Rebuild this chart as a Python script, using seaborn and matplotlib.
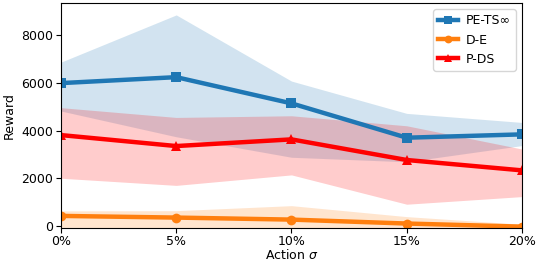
import numpy as np
import pandas as pd
import matplotlib
matplotlib.use('Agg')
import matplotlib.pyplot as plt
import seaborn as sns

# 数据
sigma = [0, 5, 10, 15, 20]
tick_labels = ['0%', '5%', '10%', '15%', '20%']

pets_mean = [5990, 6240, 5140, 3700, 3840]
pets_low = [4820, 3740, 2880, 2690, 3370]
pets_high = [6870, 8850, 6075, 4720, 4340]

de_mean = [420, 350, 265, 100, -30]
de_low = [-60, -80, -100, -120, -120]
de_high = [630, 640, 850, 390, 70]

pds_mean = [3810, 3350, 3630, 2765, 2330]
pds_low = [2000, 1700, 2140, 910, 1230]
pds_high = [4960, 4550, 4620, 4200, 3225]

plt.rcParams['font.family'] = ['DejaVu Sans']
plt.rcParams['font.size'] = 9

fig = plt.figure(figsize=(5.37, 2.61), dpi=100)
ax = fig.add_axes([0.1136, 0.128, 0.8584, 0.8605])

series = [
    ('PE-TS∞', pets_mean, pets_low, pets_high, '#1f77b4', 's'),
    ('D-E', de_mean, de_low, de_high, '#ff7f0e', 'o'),
    ('P-DS', pds_mean, pds_low, pds_high, 'red', '^'),
]

for name, m, lo, hi, c, mk in series:
    df = pd.DataFrame({'sigma': sigma, 'reward': m})
    sns.lineplot(data=df, x='sigma', y='reward', ax=ax, color=c, marker=mk,
                 markersize=7, markeredgewidth=0, linewidth=3.2, label=name)
    ax.fill_between(sigma, lo, hi, color=c, alpha=0.2, linewidth=0)

ax.set_xlim(0, 20)
ax.set_ylim(-70, 9350)
ax.set_xticks(sigma)
ax.set_xticklabels(tick_labels)
ax.set_yticks([0, 2000, 4000, 6000, 8000])
ax.tick_params(axis='x', pad=1.5)
ax.tick_params(axis='y', pad=2)
ax.set_xlabel(r'Action $\sigma$', labelpad=0)
ax.set_ylabel('Reward', labelpad=4)
ax.legend(loc='upper right', fontsize=9, handlelength=1.6, handletextpad=0.6,
          markerscale=0.8)

plt.savefig('out.png', dpi=100)
